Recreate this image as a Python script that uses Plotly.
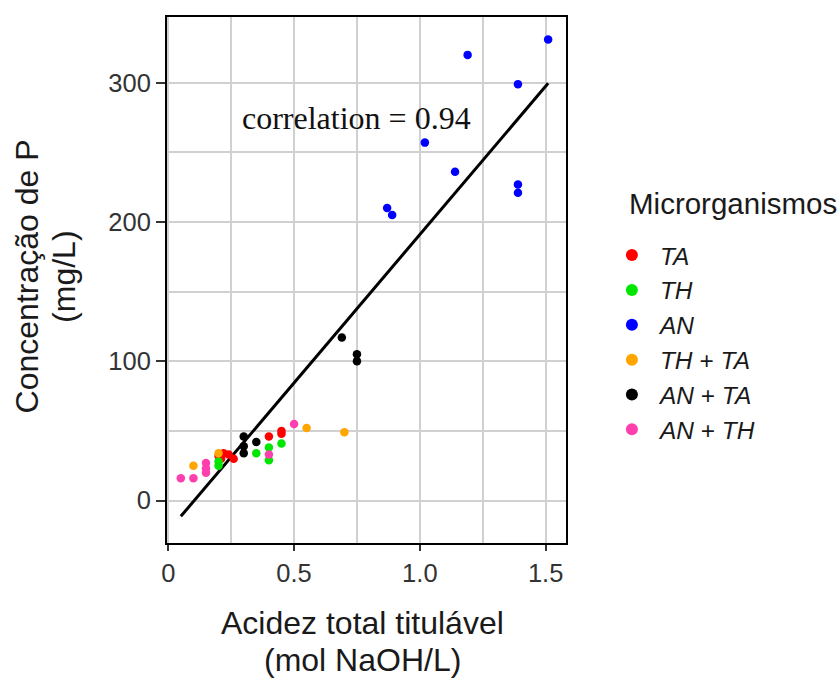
import plotly.graph_objects as go

# Acidez total titulável (mol NaOH/L) vs concentração de P (mg/L) by microorganism group
ta_x = [0.20, 0.22, 0.24, 0.26, 0.21, 0.40, 0.45, 0.45]
ta_y = [32, 34, 33, 30, 30, 46, 50, 48]

th_x = [0.20, 0.20, 0.35, 0.40, 0.40, 0.45]
th_y = [25, 28, 34, 38, 29, 41]

an_x = [1.51, 1.19, 1.39, 1.02, 1.14, 1.39, 1.39, 0.87, 0.89]
an_y = [331, 320, 299, 257, 236, 227, 221, 210, 205]

thta_x = [0.10, 0.20, 0.55, 0.70]
thta_y = [25, 34, 52, 49]

anta_x = [0.30, 0.30, 0.30, 0.35, 0.69, 0.75, 0.75]
anta_y = [46, 39, 34, 42, 117, 105, 100]

anth_x = [0.05, 0.10, 0.15, 0.15, 0.15, 0.40, 0.50]
anth_y = [16, 16, 27, 23, 20, 33, 55]

groups = [
    ("<i>TA</i>", ta_x, ta_y, "#ff0000"),
    ("<i>TH</i>", th_x, th_y, "#00e600"),
    ("<i>AN</i>", an_x, an_y, "#0000ff"),
    ("<i>TH</i> + <i>TA</i>", thta_x, thta_y, "#ffa500"),
    ("<i>AN</i> + <i>TA</i>", anta_x, anta_y, "#000000"),
    ("<i>AN</i> + <i>TH</i>", anth_x, anth_y, "#ff3fae"),
]

# Linear fit shown over the observed acidity range
fit_slope = 213.0
fit_intercept = -22.0
correlation = 0.94

x_ticks = [0, 0.5, 1.0, 1.5]
x_ticktext = ["0", "0.5", "1.0", "1.5"]
y_ticks = [0, 100, 200, 300]

x_title_lines = ["Acidez total titulável", "(mol NaOH/L)"]
y_title_lines = ["Concentração de P", "(mg/L)"]
legend_title = "Microrganismos"

all_x = ta_x + th_x + an_x + thta_x + anta_x + anth_x
x_lo, x_hi = min(all_x), max(all_x)

SANS = "Liberation Sans, Arial, sans-serif"
TEXT_COL = "#1a1a1a"

fig = go.Figure()

fig.add_trace(go.Scatter(
    x=[x_lo, x_hi],
    y=[fit_slope * x_lo + fit_intercept, fit_slope * x_hi + fit_intercept],
    mode="lines", line=dict(color="black", width=3),
    showlegend=False, hoverinfo="skip",
))

for name, xs, ys, col in groups:
    fig.add_trace(go.Scatter(
        x=xs, y=ys, mode="markers", name=name,
        marker=dict(color=col, size=8.5, line=dict(width=0)),
    ))

fig.add_annotation(
    x=0.75, y=275, xref="x", yref="y",
    text=f"correlation = {correlation}", showarrow=False,
    font=dict(family="Liberation Serif, Times New Roman, serif", size=32, color="#111111"),
)

# Two-line axis titles, with tighter line spacing than the default
title_font = dict(family=SANS, size=32, color=TEXT_COL)
for txt, yy in zip(x_title_lines, [-0.152, -0.222]):
    fig.add_annotation(x=0.49, y=yy, xref="paper", yref="paper", text=txt,
                       showarrow=False, xanchor="center", yanchor="middle", font=title_font)
for txt, xx in zip(y_title_lines, [-0.352, -0.258]):
    fig.add_annotation(x=xx, y=0.506, xref="paper", yref="paper", text=txt, textangle=-90,
                       showarrow=False, xanchor="center", yanchor="middle", font=title_font)

fig.add_annotation(x=1.153, y=0.645, xref="paper", yref="paper", text=legend_title,
                   showarrow=False, xanchor="left", yanchor="middle",
                   font=dict(family=SANS, size=29.5, color=TEXT_COL))

axis_font = dict(family=SANS, size=25.5, color="#333333")

fig.update_layout(
    width=838, height=680,
    margin=dict(l=167, r=272, t=17, b=137),
    plot_bgcolor="white", paper_bgcolor="white",
    legend=dict(
        font=dict(family=SANS, size=24.5, color=TEXT_COL),
        x=1.095, xanchor="left", y=0.59, yanchor="top",
        itemsizing="constant", tracegroupgap=0, itemwidth=46,
    ),
    xaxis=dict(
        range=[-0.005, 1.581],
        tickvals=x_ticks, ticktext=x_ticktext,
        showgrid=True, gridcolor="#d0d0d0", gridwidth=1.5,
        minor=dict(dtick=0.25, tick0=0, showgrid=True, gridcolor="#d0d0d0", gridwidth=1.5, ticks=""),
        showline=True, linecolor="black", linewidth=2, mirror=True,
        ticks="outside", ticklen=6, tickcolor="#333333", tickwidth=1.5,
        zeroline=False, tickfont=axis_font, automargin=False,
    ),
    yaxis=dict(
        range=[-30.5, 347.2],
        tickvals=y_ticks,
        showgrid=True, gridcolor="#d0d0d0", gridwidth=1.5,
        minor=dict(dtick=50, tick0=0, showgrid=True, gridcolor="#d0d0d0", gridwidth=1.5, ticks=""),
        showline=True, linecolor="black", linewidth=2, mirror=True,
        ticks="outside", ticklen=9, tickcolor="#333333", tickwidth=1.5,
        zeroline=False, tickfont=axis_font, automargin=False,
    ),
)

fig.write_html("out.html")
